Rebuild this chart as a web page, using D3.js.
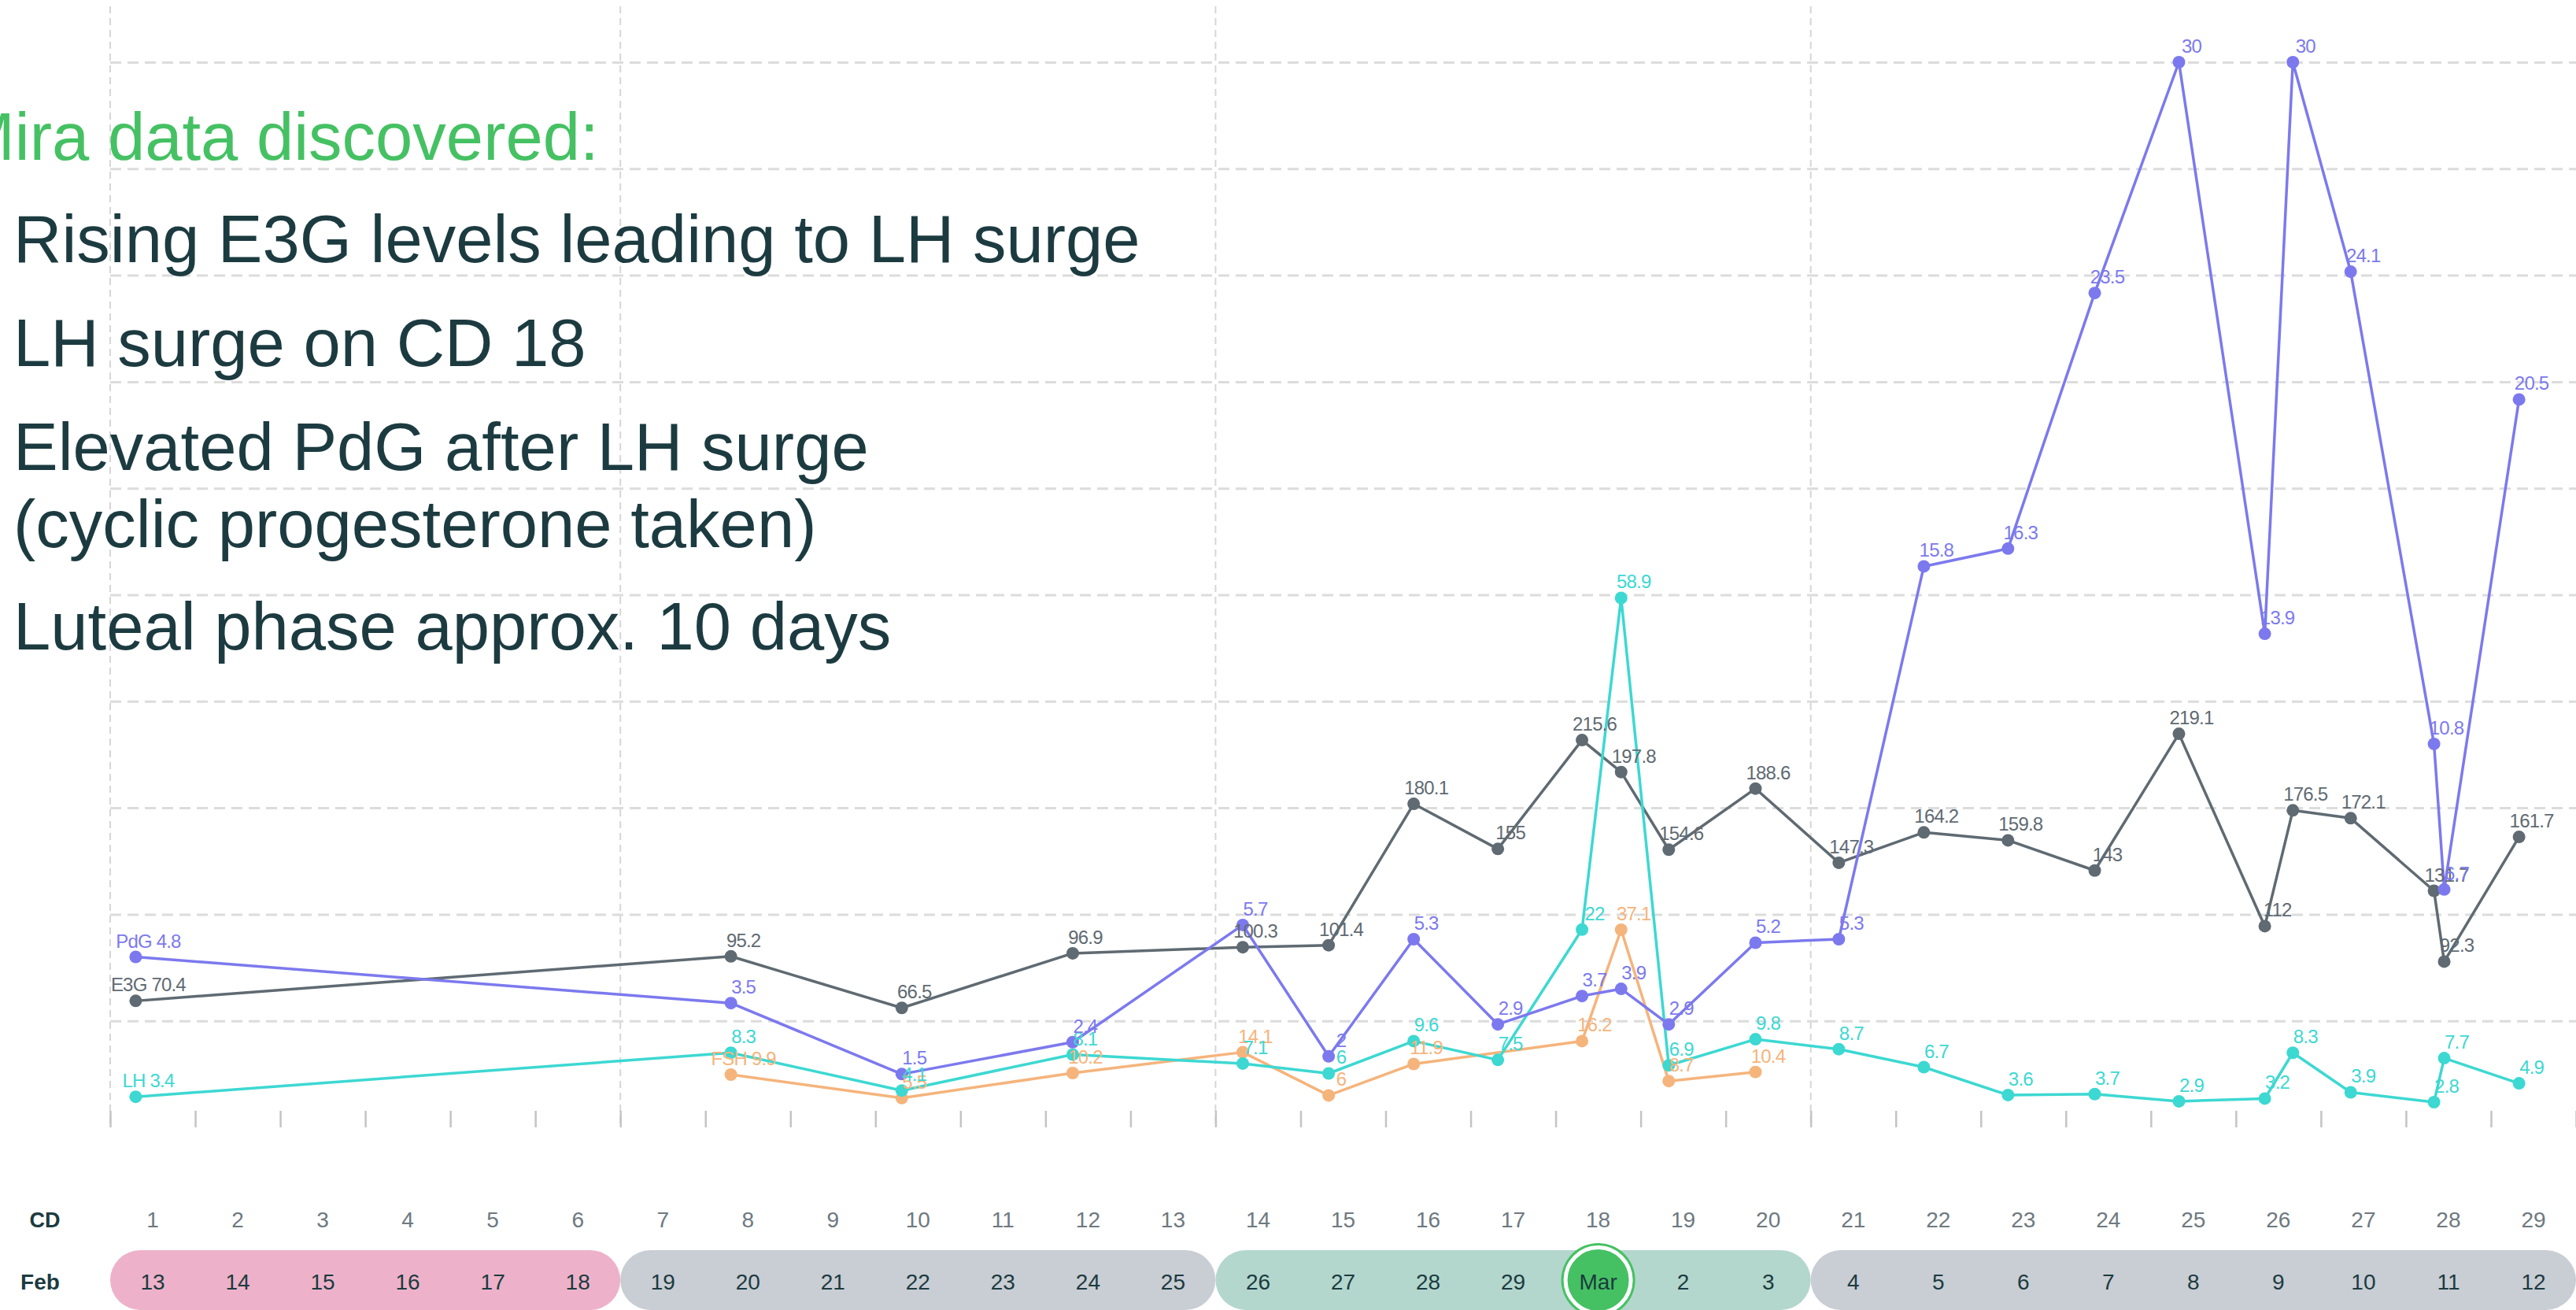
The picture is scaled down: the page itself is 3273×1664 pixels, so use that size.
<!DOCTYPE html>
<html>
<head>
<meta charset="utf-8">
<script src="https://cdn.jsdelivr.net/npm/d3@7/dist/d3.min.js"></script>
<style>
  html, body { margin: 0; padding: 0; background: #fff; overflow: hidden; }
  svg { display: block; font-family: "Liberation Sans", Arial, sans-serif; }
</style>
</head>
<body>
<div id="chart-area"></div>
<script>
// position of each test on the cycle-day axis (day + time of day)
var testCd = [1.30, 8.30, 10.31, 12.32, 14.32, 15.33, 16.33, 17.32, 18.31, 18.77, 19.33, 20.35,
  21.33, 22.33, 23.32, 24.34, 25.33, 26.34, 26.67, 27.35, 28.33, 28.45, 29.33];

// hormone readings, one per test (null = not measured)
var e3gValues = [70.4, 95.2, 66.5, 96.9, 100.3, 101.4, 180.1, 155, 215.6, 197.8, 154.6, 188.6,
  147.3, 164.2, 159.8, 143, 219.1, 112, 176.5, 172.1, 131.7, 92.3, 161.7];
var pdgValues = [4.8, 3.5, 1.5, 2.4, 5.7, 2, 5.3, 2.9, 3.7, 3.9, 2.9, 5.2,
  5.3, 15.8, 16.3, 23.5, 30, 13.9, 30, 24.1, 10.8, 6.7, 20.5];
var lhValues = [3.4, 8.3, 4.1, 8.1, 7.1, 6, 9.6, 7.5, 22, 58.9, 6.9, 9.8,
  8.7, 6.7, 3.6, 3.7, 2.9, 3.2, 8.3, 3.9, 2.8, 7.7, 4.9];
var fshValues = [null, 9.9, 5.5, 10.2, 14.1, 6, 11.9, null, 16.2, 37.1, 8.7, 10.4,
  null, null, null, null, null, null, null, null, null, null, null];

// bottom axis labels
var cdLabels = ["1", "2", "3", "4", "5", "6", "7", "8", "9", "10", "11", "12", "13", "14", "15",
  "16", "17", "18", "19", "20", "21", "22", "23", "24", "25", "26", "27", "28", "29"];
var dateLabels = ["13", "14", "15", "16", "17", "18", "19", "20", "21", "22", "23", "24", "25",
  "26", "27", "28", "29", "Mar", "2", "3", "4", "5", "6", "7", "8", "9", "10", "11", "12"];
var monthLabel = "Feb";

// week pills under the axis
var phaseStart = [1, 7, 14, 21];
var phaseEnd = [7, 14, 21, 30];
var phaseType = ["period", "plain", "fertile", "plain"];
var peakDay = 18;

var heading = "Mira data discovered:";
var bulletLines = ["Rising E3G levels leading to LH surge", "LH surge on CD 18",
  "Elevated PdG after LH surge", "(cyclic progesterone taken)", "Luteal phase approx. 10 days"];

var width = 3273, height = 1664;
var plotLeft = 140, plotRight = 3273, plotTop = 79, plotBottom = 1432;

var phaseColor = { period: "#edb2c9", plain: "#c9cdd4", fertile: "#b3d7cd" };

var svg = d3.select("#chart-area").append("svg")
  .attr("width", width).attr("height", height);

var x = d3.scaleLinear().domain([1, 30]).range([plotLeft, plotRight]);
var yPdG = d3.scaleLinear().domain([0, 30]).range([plotBottom, plotTop]);
var yE3G = d3.scaleLinear().domain([0, 593]).range([plotBottom, plotTop]);
var yLH = d3.scaleLinear().domain([0, 118.5]).range([plotBottom, plotTop]);
var yFSH = d3.scaleLinear().domain([0, 200]).range([plotBottom, plotTop]);

// horizontal dashed grid
var grid = svg.append("g").attr("class", "y grid")
  .attr("transform", "translate(" + plotLeft + ",0)")
  .call(d3.axisLeft(yPdG).tickValues([3, 6, 9, 12, 15, 18, 21, 24, 27, 30])
    .tickSize(-(plotRight - plotLeft)).tickFormat(""));
grid.select(".domain").remove();
grid.selectAll("line").attr("stroke", "#dcdcdc").attr("stroke-width", 3)
  .attr("stroke-dasharray", "14,8");

// week lines
svg.append("g").selectAll("line").data(phaseStart).enter().append("line")
  .attr("x1", function(d) { return x(d); }).attr("x2", function(d) { return x(d); })
  .attr("y1", 8).attr("y2", plotBottom)
  .attr("stroke", "#d6d6d6").attr("stroke-width", 2).attr("stroke-dasharray", "9,6");

// day ticks along the bottom
var ticks = svg.append("g").attr("class", "x axis")
  .attr("transform", "translate(0," + (plotBottom - 21) + ")")
  .call(d3.axisBottom(x).tickValues(d3.range(1, 31)).tickSize(21).tickFormat(""));
ticks.select(".domain").remove();
ticks.selectAll("line").attr("stroke", "#c4c4c4").attr("stroke-width", 2.5);

// left text block
svg.append("text").attr("x", -52).attr("y", 203)
  .attr("font-size", 85).attr("fill", "#45c163").text(heading);
var bulletY = [333, 465, 597, 695, 825];
bulletLines.forEach(function(line, i) {
  svg.append("text").attr("x", 17).attr("y", bulletY[i])
    .attr("font-size", 85).attr("fill", "#1c3b40").text(line);
});

var series = [
  { name: "E3G", values: e3gValues, y: yE3G, color: "#5f6a72" },
  { name: "FSH", values: fshValues, y: yFSH, color: "#f5b47c" },
  { name: "LH", values: lhValues, y: yLH, color: "#3dd8d2" },
  { name: "PdG", values: pdgValues, y: yPdG, color: "#7c79ee" }
];

series.forEach(function(s) {
  s.points = testCd.map(function(cd, i) { return { cd: cd, v: s.values[i] }; })
    .filter(function(d) { return d.v !== null; });
});

var line = d3.line()
  .x(function(d) { return x(d.cd); });

series.forEach(function(s) {
  var g = svg.append("g").attr("class", "series " + s.name);
  g.append("path").datum(s.points)
    .attr("fill", "none").attr("stroke", s.color).attr("stroke-width", 3.5)
    .attr("stroke-linejoin", "round")
    .attr("d", line.y(function(d) { return s.y(d.v); }));
  g.selectAll("circle").data(s.points).enter().append("circle")
    .attr("cx", function(d) { return x(d.cd); })
    .attr("cy", function(d) { return s.y(d.v); })
    .attr("r", 8).attr("fill", s.color);
});

// value labels on top of everything
series.forEach(function(s) {
  svg.append("g").selectAll("text").data(s.points).enter().append("text")
    .attr("x", function(d) { return x(d.cd) + 16; })
    .attr("y", function(d) { return s.y(d.v) - 12; })
    .attr("text-anchor", "middle").attr("font-size", 24).attr("letter-spacing", -0.8)
    .attr("fill", s.color)
    .text(function(d, i) { return i === 0 ? s.name + " " + d.v : String(d.v); });
});

// CD row
svg.append("text").attr("x", 57).attr("y", 1559).attr("text-anchor", "middle")
  .attr("font-size", 27).attr("font-weight", "bold").attr("fill", "#1c3b40").text("CD");
svg.append("g").selectAll("text").data(cdLabels).enter().append("text")
  .attr("x", function(d, i) { return x(i + 1.5); }).attr("y", 1559)
  .attr("text-anchor", "middle").attr("font-size", 28).attr("fill", "#6e7980")
  .text(function(d) { return d; });

// date pills
svg.append("g").selectAll("rect").data(phaseStart).enter().append("rect")
  .attr("x", function(d) { return x(d); })
  .attr("width", function(d, i) { return x(phaseEnd[i]) - x(d); })
  .attr("y", 1588).attr("height", 76).attr("rx", 38)
  .attr("fill", function(d, i) { return phaseColor[phaseType[i]]; });

var peak = svg.append("g").attr("transform", "translate(" + x(peakDay + 0.5) + ",1626)");
peak.append("circle").attr("r", 47).attr("fill", "#45c163");
peak.append("circle").attr("r", 41.5).attr("fill", "#45c163")
  .attr("stroke", "#fff").attr("stroke-width", 5);

svg.append("text").attr("x", 51).attr("y", 1638).attr("text-anchor", "middle")
  .attr("font-size", 28).attr("font-weight", "bold").attr("fill", "#1c3b40").text(monthLabel);
svg.append("g").selectAll("text").data(dateLabels).enter().append("text")
  .attr("x", function(d, i) { return x(i + 1.5); }).attr("y", 1638)
  .attr("text-anchor", "middle").attr("font-size", 28).attr("fill", "#1c3b40")
  .text(function(d) { return d; });
</script>
</body>
</html>
